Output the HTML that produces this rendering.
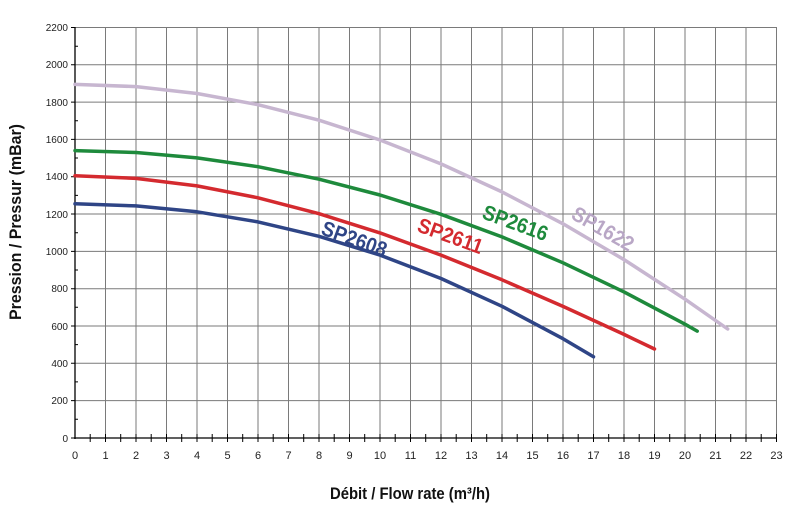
<!DOCTYPE html>
<html><head><meta charset="utf-8"><style>
html,body{margin:0;padding:0;background:#fff;width:800px;height:513px;overflow:hidden}
svg text{font-family:"Liberation Sans",sans-serif}
.t{font-size:11px;fill:#222}
.lab{font-family:"Liberation Sans",sans-serif;font-weight:bold;font-size:21px}
</style></head><body>
<svg width="800" height="513" xmlns="http://www.w3.org/2000/svg">
<g stroke="#7a7a7a" stroke-width="1">
<line x1="105.5" y1="27.5" x2="105.5" y2="438"/><line x1="136" y1="27.5" x2="136" y2="438"/><line x1="166.5" y1="27.5" x2="166.5" y2="438"/><line x1="197" y1="27.5" x2="197" y2="438"/><line x1="227.5" y1="27.5" x2="227.5" y2="438"/><line x1="258" y1="27.5" x2="258" y2="438"/><line x1="288.5" y1="27.5" x2="288.5" y2="438"/><line x1="319" y1="27.5" x2="319" y2="438"/><line x1="349.5" y1="27.5" x2="349.5" y2="438"/><line x1="380" y1="27.5" x2="380" y2="438"/><line x1="410.5" y1="27.5" x2="410.5" y2="438"/><line x1="441" y1="27.5" x2="441" y2="438"/><line x1="471.5" y1="27.5" x2="471.5" y2="438"/><line x1="502" y1="27.5" x2="502" y2="438"/><line x1="532.5" y1="27.5" x2="532.5" y2="438"/><line x1="563" y1="27.5" x2="563" y2="438"/><line x1="593.5" y1="27.5" x2="593.5" y2="438"/><line x1="624" y1="27.5" x2="624" y2="438"/><line x1="654.5" y1="27.5" x2="654.5" y2="438"/><line x1="685" y1="27.5" x2="685" y2="438"/><line x1="715.5" y1="27.5" x2="715.5" y2="438"/><line x1="746" y1="27.5" x2="746" y2="438"/><line x1="776.5" y1="27.5" x2="776.5" y2="438"/>
<line x1="75" y1="27.5" x2="777" y2="27.5"/><line x1="75" y1="64.8" x2="777" y2="64.8"/><line x1="75" y1="102.1" x2="777" y2="102.1"/><line x1="75" y1="139.4" x2="777" y2="139.4"/><line x1="75" y1="176.7" x2="777" y2="176.7"/><line x1="75" y1="214" x2="777" y2="214"/><line x1="75" y1="251.4" x2="777" y2="251.4"/><line x1="75" y1="288.7" x2="777" y2="288.7"/><line x1="75" y1="326" x2="777" y2="326"/><line x1="75" y1="363.3" x2="777" y2="363.3"/><line x1="75" y1="400.6" x2="777" y2="400.6"/>
</g>
<g stroke="#000" stroke-width="1.3">
<line x1="75" y1="27" x2="75" y2="439"/><line x1="74" y1="438" x2="777" y2="438"/>
</g>
<g stroke="#000" stroke-width="1">
<path d="M71 27.5h4M71 64.8h4M71 102.1h4M71 139.4h4M71 176.7h4M71 214h4M71 251.4h4M71 288.7h4M71 326h4M71 363.3h4M71 400.6h4M71 438h4"/>
<path d="M75 46.2h3M75 83.5h3M75 120.8h3M75 158h3M75 195.4h3M75 232.7h3M75 270h3M75 307.3h3M75 344.6h3M75 381.9h3M75 419.3h3"/>
<path d="M90.2 434v8M105.5 434v8M120.7 434v8M136 434v8M151.2 434v8M166.5 434v8M181.7 434v8M197 434v8M212.2 434v8M227.5 434v8M242.7 434v8M258 434v8M273.2 434v8M288.5 434v8M303.7 434v8M319 434v8M334.2 434v8M349.5 434v8M364.7 434v8M380 434v8M395.2 434v8M410.5 434v8M425.7 434v8M441 434v8M456.2 434v8M471.5 434v8M486.7 434v8M502 434v8M517.2 434v8M532.5 434v8M547.7 434v8M563 434v8M578.2 434v8M593.5 434v8M608.7 434v8M624 434v8M639.2 434v8M654.5 434v8M669.7 434v8M685 434v8M700.2 434v8M715.5 434v8M730.7 434v8M746 434v8M761.2 434v8M776.5 434v8"/>
</g>
<g class="t" text-anchor="end" style="font-size:10px">
<text x="68" y="31">2200</text><text x="68" y="68">2000</text><text x="68" y="106">1800</text><text x="68" y="143">1600</text><text x="68" y="180">1400</text><text x="68" y="218">1200</text><text x="68" y="255">1000</text><text x="68" y="292">800</text><text x="68" y="330">600</text><text x="68" y="367">400</text><text x="68" y="404">200</text><text x="68" y="442">0</text>
</g>
<g class="t" text-anchor="middle">
<text x="75" y="459">0</text><text x="105.5" y="459">1</text><text x="136" y="459">2</text><text x="166.5" y="459">3</text><text x="197" y="459">4</text><text x="227.5" y="459">5</text><text x="258" y="459">6</text><text x="288.5" y="459">7</text><text x="319" y="459">8</text><text x="349.5" y="459">9</text><text x="380" y="459">10</text><text x="410.5" y="459">11</text><text x="441" y="459">12</text><text x="471.5" y="459">13</text><text x="502" y="459">14</text><text x="532.5" y="459">15</text><text x="563" y="459">16</text><text x="593.5" y="459">17</text><text x="624" y="459">18</text><text x="654.5" y="459">19</text><text x="685" y="459">20</text><text x="715.5" y="459">21</text><text x="746" y="459">22</text><text x="776.5" y="459">23</text>
</g>
<g fill="none" stroke-width="3.5" stroke-linejoin="round" stroke-linecap="round">
<polyline stroke="#c7b6d0" points="75,84.4 136,86.6 197,93.5 258,104.7 319,120.2 380,140 441,163.9 502,191.9 563,223.8 624,259.6 685,299.2 727.7,329"/>
<polyline stroke="#1e8a3c" points="75,150.6 136,152.5 197,157.9 258,166.7 319,179.2 380,195 441,214.3 502,236.9 563,262.8 624,291.9 685,324.2 697.2,331.1"/>
<polyline stroke="#d42a2f" points="75,175.8 136,178.4 197,185.9 258,197.8 319,213.7 380,232.9 441,255.1 502,279.8 563,306.4 624,334.4 654.5,349"/>
<polyline stroke="#2f4586" points="75,203.8 136,205.9 197,211.8 258,221.9 319,236.3 380,255.1 441,278.5 502,306.3 563,338.7 593.5,356.8"/>
</g>
<text class="lab" fill="#2f4586" transform="translate(320,234) rotate(20)" textLength="68" lengthAdjust="spacingAndGlyphs">SP2608</text>
<text class="lab" fill="#d42a2f" transform="translate(416,231) rotate(20)" textLength="68" lengthAdjust="spacingAndGlyphs">SP2611</text>
<text class="lab" fill="#1e8a3c" transform="translate(481,218) rotate(20)" textLength="68" lengthAdjust="spacingAndGlyphs">SP2616</text>
<text class="lab" fill="#b9a7c6" transform="translate(570,218) rotate(30)" textLength="68" lengthAdjust="spacingAndGlyphs">SP1622</text>
<text x="330" y="499" textLength="160" lengthAdjust="spacingAndGlyphs" style="font-weight:bold;font-size:17px;fill:#111">Débit / Flow rate (m³/h)</text>
<text transform="translate(21,320) rotate(-90)" textLength="196" lengthAdjust="spacingAndGlyphs" style="font-weight:bold;font-size:17px;fill:#111">Pression / Pressur (mBar)</text>
</svg>
</body></html>
